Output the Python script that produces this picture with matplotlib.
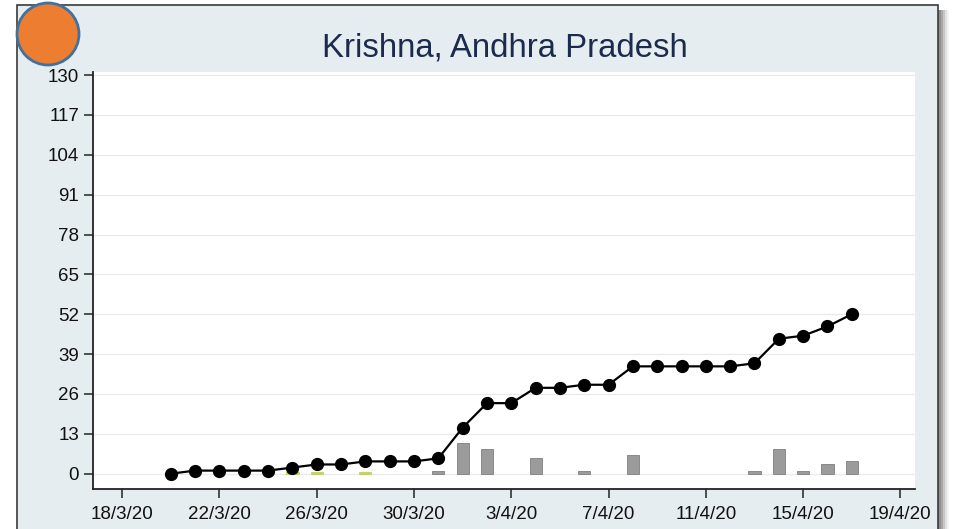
import matplotlib
matplotlib.use("Agg")
import matplotlib.pyplot as plt
import matplotlib.patches as mpatches
import numpy as np
import pandas as pd

plt.rcParams['font.family'] = ['Liberation Sans', 'DejaVu Sans']

title = "Krishna, Andhra Pradesh"
dates = ["2020-03-20", "2020-03-21", "2020-03-22", "2020-03-23", "2020-03-24",
         "2020-03-25", "2020-03-26", "2020-03-27", "2020-03-28", "2020-03-29",
         "2020-03-30", "2020-03-31", "2020-04-01", "2020-04-02", "2020-04-03",
         "2020-04-04", "2020-04-05", "2020-04-06", "2020-04-07", "2020-04-08",
         "2020-04-09", "2020-04-10", "2020-04-11", "2020-04-12", "2020-04-13",
         "2020-04-14", "2020-04-15", "2020-04-16", "2020-04-17"]
cumulative = [0, 1, 1, 1, 1, 2, 3, 3, 4, 4, 4, 5, 15, 23, 23, 28, 28, 29, 29,
              35, 35, 35, 35, 35, 36, 44, 45, 48, 52]
daily_new = [0, 0, 0, 0, 0, 0, 0, 0, 0, 0, 0, 1, 10, 8, 0, 5, 0, 1, 0,
             6, 0, 0, 0, 0, 1, 8, 1, 3, 4]
daily_other = [0, 0, 0, 0, 0, 0.6, 0.6, 0, 0.6, 0, 0, 0, 0, 0, 0, 0, 0, 0, 0,
               0, 0, 0, 0, 0, 0, 0, 0, 0, 0]
yticks = [0, 13, 26, 39, 52, 65, 78, 91, 104, 117, 130]
xtick_dates = ["2020-03-18", "2020-03-22", "2020-03-26", "2020-03-30", "2020-04-03",
               "2020-04-07", "2020-04-11", "2020-04-15", "2020-04-19"]

d = pd.to_datetime(dates)
xt = pd.to_datetime(xtick_dates)
new_arr = np.array(daily_new, dtype=float)
oth_arr = np.array(daily_other, dtype=float)

W, H = 955, 529
fig = plt.figure(figsize=(W / 100, H / 100), dpi=100)
fig.patch.set_facecolor("white")

# soft shadow on the right of the frame
for i, a in enumerate([0.35, 0.28, 0.2, 0.13, 0.07]):
    sh = mpatches.Rectangle((17 / W, -0.05), (938 - 17 + 3 + 2 * i) / W, (529 - 10) / H + 0.05,
                            transform=fig.transFigure, facecolor="#606060",
                            edgecolor="none", alpha=a, zorder=0)
    fig.patches.append(sh)
frame = mpatches.Rectangle((17 / W, -0.05), (938 - 17) / W, (529 - 5) / H + 0.05,
                           transform=fig.transFigure, facecolor="#e5edf1",
                           edgecolor="#3a3a3a", linewidth=1.2, zorder=1)
fig.patches.append(frame)

# orange circle
circ = mpatches.Ellipse((48 / W, 1 - 34 / H), 62 / W, 62 / H, transform=fig.transFigure,
                        facecolor="#ed7d31", edgecolor="#41719c", linewidth=2, zorder=5)
fig.patches.append(circ)

ax = fig.add_axes([93 / W, 1 - 489 / H, 822 / W, 417 / H])
ax.set_facecolor("white")
ax.set_zorder(2)

m1 = new_arr > 0
m2 = oth_arr > 0
ax.bar(d[m1], new_arr[m1], width=0.5, color="#9b9b9b", edgecolor="#7f7f7f", linewidth=0.6, zorder=2)
ax.bar(d[m2], oth_arr[m2], width=0.5, color="#c9d64a", edgecolor="#b5c23a", linewidth=0.4, zorder=2)
ax.plot(d, cumulative, color="black", linewidth=1.6, marker="o", markersize=8.5,
        markerfacecolor="black", markeredgecolor="black", zorder=3)

ax.set_ylim(-5, 131)
ax.set_xlim(xt[0] - pd.Timedelta(days=1.2), xt[0] + pd.Timedelta(days=32.6))
ax.set_yticks(yticks)
ax.set_yticklabels([str(v) for v in yticks])
ax.set_xticks(xt)
ax.set_xticklabels([f"{t.day}/{t.month}/{t.strftime('%y')}" for t in xt])

ax.yaxis.grid(True, color="#e9e9e9", linewidth=0.9)
ax.set_axisbelow(True)
for s in ["top", "right"]:
    ax.spines[s].set_visible(False)
for s in ["left", "bottom"]:
    ax.spines[s].set_color("#222222")
    ax.spines[s].set_linewidth(1.3)
ax.tick_params(axis="both", direction="out", length=6.5, width=1.1, color="#222222",
               labelsize=13.5, labelcolor="#111111")
ax.tick_params(axis="y", pad=3.5)
ax.tick_params(axis="x", pad=6)

fig.text(505 / W, 1 - 48 / H, title, ha="center", va="center", fontsize=23.7,
         color="#1c2a4d", zorder=6)

fig.savefig("out.png", dpi=100)
